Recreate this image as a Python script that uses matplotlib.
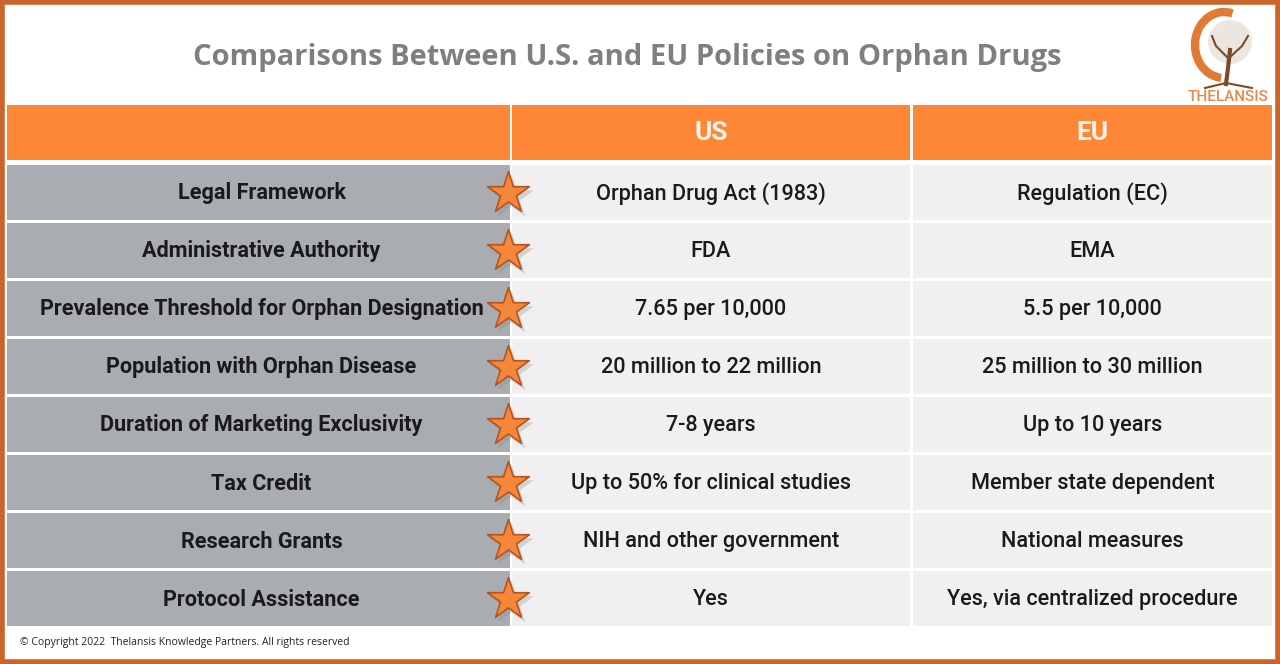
import matplotlib.pyplot as plt
from matplotlib.patches import Rectangle, Arc, Circle

# table content
title = "Comparisons Between U.S. and EU Policies on Orphan Drugs"
headers = ["", "US", "EU"]
criteria = ["Legal Framework", "Administrative Authority",
            "Prevalence Threshold for Orphan Designation",
            "Population with Orphan Disease", "Duration of Marketing Exclusivity",
            "Tax Credit", "Research Grants", "Protocol Assistance"]
us_vals = ["Orphan Drug Act (1983)", "FDA", "7.65 per 10,000",
           "20 million to 22 million", "7-8 years",
           "Up to 50% for clinical studies", "NIH and other government", "Yes"]
eu_vals = ["Regulation (EC)", "EMA", "5.5 per 10,000",
           "25 million to 30 million", "Up to 10 years",
           "Member state dependent", "National measures",
           "Yes, via centralized procedure"]
footer = "\u00a9 Copyright 2022  Thelansis Knowledge Partners. All rights reserved"

ORANGE = "#fd8637"
GREY = "#a9adb2"
LIGHT = "#f0f0f0"
BORDER = "#c8642c"

fig = plt.figure(figsize=(12.8, 6.64), dpi=100)
ax = fig.add_axes([0, 0, 1, 1])
ax.set_xlim(0, 1280)
ax.set_ylim(664, 0)
ax.axis("off")

# outer frame
ax.add_patch(Rectangle((2, 2), 1276, 660, fill=False, ec=BORDER, lw=4))

ax.text(627, 57, title, ha="center", va="center", fontsize=21,
        fontweight="bold", color="#7f7f7f", family="Open Sans")

col_x = [7, 512, 913]
col_w = [503, 398, 359]
font = "Roboto"

# header row
for j in range(3):
    ax.add_patch(Rectangle((col_x[j], 105), col_w[j], 55, fc=ORANGE, ec="none"))
    ax.text(col_x[j] + col_w[j] / 2, 133, headers[j], ha="center", va="center",
            fontsize=19, fontweight="bold", color="#fdf3ea", family=font)

top = 165
h = 55
step = 58
for i in range(len(criteria)):
    y = top + i * step
    cells = [criteria[i], us_vals[i], eu_vals[i]]
    for j in range(3):
        fc = GREY if j == 0 else LIGHT
        ax.add_patch(Rectangle((col_x[j], y), col_w[j], h, fc=fc, ec="none"))
        ax.text(col_x[j] + col_w[j] / 2 + (3 if j == 0 else 0), y + h / 2 + 1,
                cells[j], ha="center", va="center", fontsize=15.6,
                fontweight="bold" if j == 0 else "medium", color="#1a1a1a",
                family=font)
    # star marker with shadow
    ax.scatter([511], [y + h / 2 + 4], s=1150, marker="*", color="#8a8a8a",
               alpha=0.3, zorder=4, lw=0)
    ax.scatter([508], [y + h / 2], s=1000, marker="*", fc="#f5873a",
               ec="#b5541e", lw=1.2, zorder=5)

ax.text(20, 642, footer, ha="left", va="center", fontsize=7.5,
        color="#222222", family="Open Sans")

# logo
ax.add_patch(Circle((1230, 42), 22, fc="#ece6e0", ec="none"))
ax.add_patch(Arc((1224, 45), 58, 66, theta1=95, theta2=285, color="#e07a35", lw=6))
ax.plot([1230, 1228, 1226], [50, 68, 84], color="#7a4a2a", lw=3)
ax.plot([1228, 1216, 1212], [58, 46, 36], color="#7a4a2a", lw=1.5)
ax.plot([1229, 1242, 1248], [58, 46, 36], color="#7a4a2a", lw=1.5)
ax.plot([1205, 1226, 1252], [88, 83, 88], color="#7a4a2a", lw=1.5)
ax.text(1228, 97, "THELANSIS", ha="center", va="center", fontsize=11,
        fontweight="medium", color="#e8884a", family=font)

fig.savefig("out.png", dpi=100)
